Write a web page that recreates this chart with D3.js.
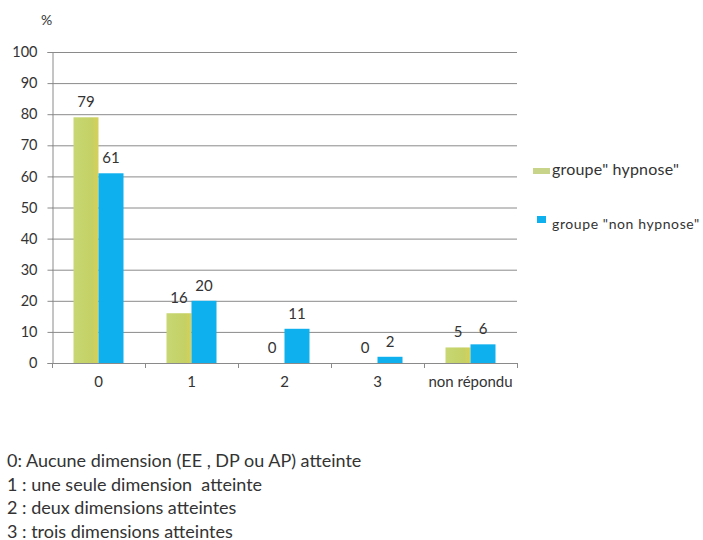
<!DOCTYPE html>
<html>
<head>
<meta charset="utf-8">
<script src="https://cdn.jsdelivr.net/npm/d3@7"></script>
<style>
  html, body { margin: 0; padding: 0; background: #fff; }
  svg { display: block; }
  text { font-family: Lato, "Open Sans", sans-serif; fill: #333; white-space: pre; }
</style>
</head>
<body>
<svg id="chart" width="703" height="540"></svg>
<script>
const categories = ["0", "1", "2", "3", "non répondu"];
const seriesNames = ["groupe\" hypnose\"", "groupe \"non hypnose\""];
const hypnose = [79, 16, 0, 0, 5];
const nonHypnose = [61, 20, 11, 2, 6];
const yTicks = [0, 10, 20, 30, 40, 50, 60, 70, 80, 90, 100];
const notes = [
  "0: Aucune dimension (EE , DP ou AP) atteinte",
  "1 : une seule dimension  atteinte",
  "2 : deux dimensions atteintes",
  "3 : trois dimensions atteintes"
];
const colors = ["#c5d46c", "#0fb0ee"];

const svg = d3.select("#chart");
const plot = { left: 52, right: 517, top: 52, bottom: 363 };

const x = d3.scaleBand().domain(categories).range([plot.left, plot.right]);
const xs = d3.scaleBand().domain([0, 1]).range([0, x.bandwidth()]).paddingInner(0).paddingOuter(0.86);
const y = d3.scaleLinear().domain([0, 100]).range([plot.bottom, plot.top]);

// gradient for the yellow-green bars
const defs = svg.append("defs");
const g1 = defs.append("linearGradient").attr("id", "gGreen").attr("x1", 0).attr("x2", 1);
g1.append("stop").attr("offset", "0%").attr("stop-color", "#c9d774");
g1.append("stop").attr("offset", "70%").attr("stop-color", "#c3d165");
g1.append("stop").attr("offset", "100%").attr("stop-color", "#d6d05a");

// horizontal gridlines
svg.append("g").selectAll("line").data(yTicks).join("line")
  .attr("x1", plot.left).attr("x2", plot.right)
  .attr("y1", d => y(d) + 0.5).attr("y2", d => y(d) + 0.5)
  .attr("stroke", "#8a8a8a").attr("stroke-width", 1);

// y axis
const yAxis = svg.append("g").attr("transform", `translate(${plot.left + 0.5},0)`)
  .call(d3.axisLeft(y).tickValues(yTicks).tickSize(5).tickPadding(10));
yAxis.select(".domain").attr("stroke", "#8a8a8a");
yAxis.selectAll(".tick line").attr("stroke", "#8a8a8a");
yAxis.selectAll(".tick text").attr("font-size", 14.5).attr("fill", "#333")
  .attr("font-family", "Lato, sans-serif");

// x axis
const xAxis = svg.append("g").attr("transform", `translate(0,${plot.bottom + 0.5})`)
  .call(d3.axisBottom(x).tickSize(0).tickPadding(13));
xAxis.select(".domain").remove();
xAxis.selectAll(".tick text").attr("font-size", 15).attr("fill", "#333")
  .attr("font-family", "Lato, sans-serif");
// category separators
svg.append("g").selectAll("line").data(d3.range(categories.length + 1)).join("line")
  .attr("x1", i => plot.left + i * x.step() + 0.5).attr("x2", i => plot.left + i * x.step() + 0.5)
  .attr("y1", plot.bottom).attr("y2", plot.bottom + 5)
  .attr("stroke", "#8a8a8a");

// bars
const series = [hypnose, nonHypnose];
series.forEach((vals, si) => {
  const grp = svg.append("g");
  grp.selectAll("rect").data(vals).join("rect")
    .attr("x", (d, i) => x(categories[i]) + xs(si))
    .attr("y", d => y(d))
    .attr("width", xs.bandwidth())
    .attr("height", d => y(0) - y(d))
    .attr("fill", si === 0 ? "url(#gGreen)" : colors[1]);
  grp.selectAll("text").data(vals).join("text")
    .attr("x", (d, i) => x(categories[i]) + xs(si) + xs.bandwidth() / 2)
    .attr("y", d => y(d) - 10)
    .attr("text-anchor", "middle")
    .attr("font-size", 15)
    .text(d => d);
});

// redraw baseline over bars
svg.append("line").attr("x1", plot.left).attr("x2", plot.right)
  .attr("y1", plot.bottom + 0.5).attr("y2", plot.bottom + 0.5).attr("stroke", "#8a8a8a");

// unit label
svg.append("text").attr("x", 41).attr("y", 25).attr("font-size", 14).text("%");

// legend
const legend = [
  { name: seriesNames[0], color: "#c8d48a", sx: 533, sy: 168, sw: 17, sh: 6, ty: 175, size: 16, ls: 0.2 },
  { name: seriesNames[1], color: colors[1], sx: 537, sy: 216, sw: 9, sh: 7, ty: 229, size: 14, ls: 0.6 }
];
legend.forEach(l => {
  svg.append("rect").attr("x", l.sx).attr("y", l.sy).attr("width", l.sw).attr("height", l.sh).attr("fill", l.color);
  svg.append("text").attr("x", 552).attr("y", l.ty).attr("font-size", l.size)
    .attr("letter-spacing", l.ls).text(l.name);
});

// notes below chart
svg.append("g").selectAll("text").data(notes).join("text")
  .attr("x", 7).attr("y", (d, i) => 467 + i * 23.5)
  .attr("font-size", 18).attr("fill", "#222")
  .text(d => d);
</script>
</body>
</html>
